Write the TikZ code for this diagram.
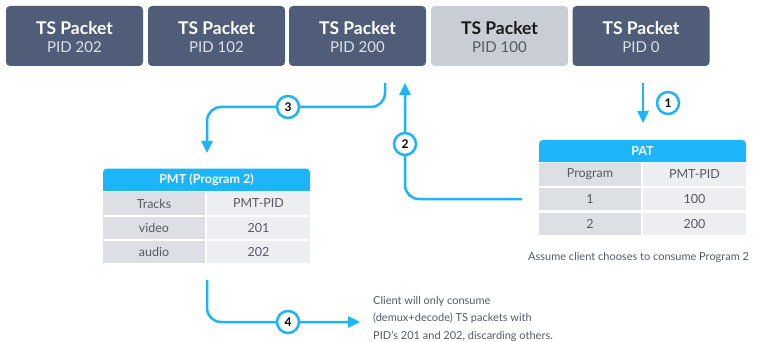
\documentclass[tikz,border=0pt]{standalone}
\usepackage{fontspec}
\setmainfont{Lato}
\usetikzlibrary{arrows.meta}
\definecolor{pktdark}{HTML}{4F5D78}
\definecolor{pktlight}{HTML}{C9CDD6}
\definecolor{pidlight}{HTML}{DDE1E8}
\definecolor{tsblue}{HTML}{1EB4FA}
\definecolor{cellL}{HTML}{DCDFE3}
\definecolor{cellR}{HTML}{ECEEF1}
\definecolor{celltext}{HTML}{555A63}
\tikzset{
  packet/.style={rectangle,rounded corners=4pt,minimum width=137pt,minimum height=60pt,inner sep=0pt},
  pkttitle/.style={inner sep=0pt,text=white,font=\fontsize{17.5}{20}\selectfont\bfseries},
  pktpid/.style={inner sep=0pt,text=pidlight,font=\fontsize{15}{18}\selectfont},
  flow/.style={draw=tsblue,line width=2.5pt,rounded corners=14pt,-{Triangle[width=11pt,length=12pt]}},
  stepnum/.style={circle,draw=tsblue,line width=2.5pt,fill=white,minimum size=22pt,inner sep=0pt,font=\fontsize{12}{14}\selectfont\bfseries},
  cellleft/.style={fill=cellL,minimum width=102pt,minimum height=22.5pt,inner sep=0pt,text=celltext,font=\fontsize{12.5}{15}\selectfont},
  cellright/.style={cellleft,fill=cellR,minimum width=103pt},
  tablehead/.style={fill=tsblue,rounded corners=4pt,minimum width=207pt,minimum height=22pt,inner sep=0pt,text=white,font=\fontsize{12.5}{15}\selectfont\bfseries},
  note/.style={inner sep=0pt,text=celltext,align=left,font=\fontsize{11}{17.5}\selectfont},
}
\begin{document}
\begin{tikzpicture}[x=1pt,y=-1pt]
  \useasboundingbox[fill=white] (0,0) rectangle (760,342);

  \node[packet,fill=pktdark] (p202) at (74.5,36) {};
  \node[packet,fill=pktdark] (p102) at (216.5,36) {};
  \node[packet,fill=pktdark] (p200) at (357.5,36) {};
  \node[packet,fill=pktlight] (p100) at (499.5,36) {};
  \node[packet,fill=pktdark] (p0) at (641,36) {};
  \node[pkttitle] (p202t) at (74.5,28) {TS Packet};
  \node[pktpid] (p202p) at (74.5,47) {PID 202};
  \node[pkttitle] (p102t) at (216.5,28) {TS Packet};
  \node[pktpid] (p102p) at (216.5,47) {PID 102};
  \node[pkttitle] (p200t) at (357.5,28) {TS Packet};
  \node[pktpid] (p200p) at (357.5,47) {PID 200};
  \node[pkttitle,text=black!90] (p100t) at (499.5,28) {TS Packet};
  \node[pktpid,text=celltext] (p100p) at (499.5,47) {PID 100};
  \node[pkttitle] (p0t) at (641,28) {TS Packet};
  \node[pktpid] (p0p) at (641,47) {PID 0};

  \fill[tsblue] (539,150) rectangle (746,162);
  \node[tablehead] (pathead) at (642.5,151) {PAT};
  \node[cellleft] (pat11) at (590,174.5) {Program};
  \node[cellright] (pat12) at (694.5,174.5) {PMT-PID};
  \node[cellleft] (pat21) at (590,199) {1};
  \node[cellright] (pat22) at (694.5,199) {100};
  \node[cellleft] (pat31) at (590,224) {2};
  \node[cellright] (pat32) at (694.5,224) {200};

  \fill[tsblue] (103,180) rectangle (310,191);
  \node[tablehead] (pmthead) at (206.5,179.5) {PMT (Program 2)};
  \node[cellleft] (pmt11) at (154,203.5) {Tracks};
  \node[cellright] (pmt12) at (258.5,203.5) {PMT-PID};
  \node[cellleft] (pmt21) at (154,228) {video};
  \node[cellright] (pmt22) at (258.5,228) {201};
  \node[cellleft] (pmt31) at (154,252) {audio};
  \node[cellright] (pmt32) at (258.5,252) {202};

  \node[note,anchor=base west] (choice) at (528,260) {Assume client chooses to consume Program 2};
  \node[note,anchor=north west] (result) at (373,296) {Client will only consume\\(demux+decode) TS packets with\\PID's 201 and 202, discarding others.};

  \coordinate (a1s) at (643,83);
  \coordinate (a1e) at (643,123);
  \coordinate (a2s) at (522,199);
  \coordinate (a2e) at (405,83);
  \coordinate (a3s) at (385,83);
  \coordinate (a3e) at (207,153);
  \coordinate (a4s) at (207,280);
  \coordinate (a4e) at (360,322);
  \coordinate (n3) at (288,107);

  \draw[flow] (a1s) -- (a1e);
  \draw[flow] (a2s) -| (a2e);
  \draw[flow] (a3s) -- (a3s |- n3) -- (a3e |- n3) -- (a3e);
  \draw[flow] (a4s) |- (a4e);

  \node[stepnum] (s1) at (668,103) {1};
  \node[stepnum] (s2) at (405,144) {2};
  \node[stepnum] (s3) at (n3) {3};
  \node[stepnum] (s4) at (288,322) {4};
\end{tikzpicture}
\end{document}
